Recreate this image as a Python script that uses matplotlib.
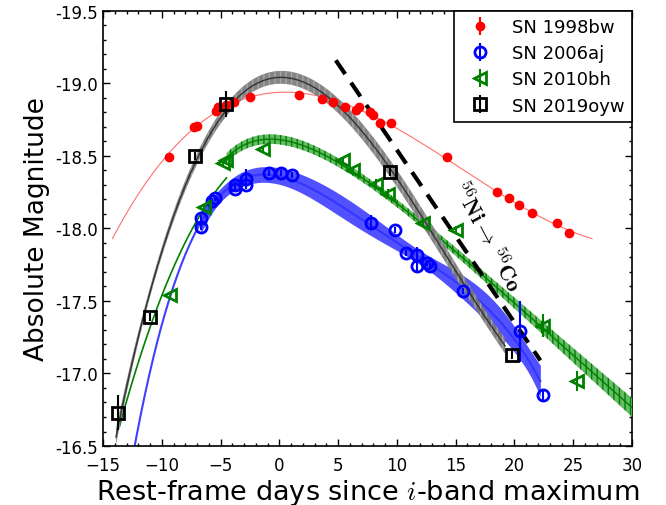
import numpy as np
import matplotlib
matplotlib.use("Agg")
import matplotlib.pyplot as plt
from matplotlib.ticker import MultipleLocator, FormatStrFormatter

plt.rcParams["mathtext.fontset"] = "cm"
plt.rcParams["hatch.linewidth"] = 1.0

# SN 1998bw
bw_t = [-9.35, -7.3, -7.0, -5.4, -5.2, -4.5, -3.9, -2.5, 1.7, 3.6, 4.6, 5.6,
        6.5, 6.8, 7.7, 8.0, 8.6, 9.5, 14.3, 18.5, 19.5, 20.4, 21.5, 23.6, 24.6]
bw_m = [-18.49, -18.70, -18.71, -18.81, -18.84, -18.85, -18.87, -18.91, -18.92,
        -18.89, -18.87, -18.84, -18.82, -18.84, -18.80, -18.78, -18.73, -18.73,
        -18.49, -18.25, -18.21, -18.16, -18.11, -18.04, -17.97]
bw_e = [0.02] * len(bw_t)

# SN 2006aj
aj_t = [-6.7, -6.7, -5.7, -5.5, -3.8, -3.8, -2.8, -2.8, -0.85, 0.1, 1.1,
        7.8, 9.8, 10.8, 11.7, 11.7, 12.6, 12.8, 15.6, 20.5, 22.4]
aj_m = [-18.07, -18.01, -18.19, -18.21, -18.30, -18.27, -18.30, -18.34, -18.38,
        -18.38, -18.37, -18.04, -17.99, -17.83, -17.82, -17.74, -17.76, -17.74,
        -17.57, -17.29, -16.85]
aj_e = [0.02, 0.02, 0.02, 0.02, 0.02, 0.02, 0.02, 0.07, 0.02, 0.02, 0.02,
        0.05, 0.02, 0.02, 0.05, 0.05, 0.02, 0.02, 0.02, 0.21, 0.04]

# SN 2010bh
bh_t = [-9.3, -6.4, -4.8, -4.5, -1.4, 5.4, 6.3, 8.2, 9.2, 12.2, 15.0, 22.4, 25.3]
bh_m = [-17.54, -18.15, -18.45, -18.47, -18.55, -18.47, -18.40, -18.31, -18.24,
        -18.04, -17.99, -17.33, -16.95]
bh_e = [0.02, 0.02, 0.02, 0.02, 0.02, 0.02, 0.02, 0.03, 0.03, 0.03, 0.03, 0.08, 0.07]

# SN 2019oyw
oyw_t = [-13.7, -11.0, -7.2, -4.5, 9.45, 19.8]
oyw_m = [-16.73, -17.39, -18.50, -18.86, -18.39, -17.13]
oyw_e = [0.12, 0.03, 0.03, 0.09, 0.03, 0.03]

# 56Ni -> 56Co decay slope
decay_t = [4.8, 22.2]
decay_m = [-19.16, -17.09]


def poly_model(t, m, deg, grid, log_shift=None):
    t = np.asarray(t, float)
    if log_shift is not None:
        t, grid = np.log(t + log_shift), np.log(grid + log_shift)
    p, cov = np.polyfit(t, m, deg, cov=True)
    vander = np.vander(grid, deg + 1)
    sig = np.sqrt(np.einsum("ij,jk,ik->i", vander, cov, vander))
    return np.polyval(p, grid), sig


fig = plt.figure(figsize=(6.66, 5.06), dpi=100)
ax = fig.add_axes([0.1547, 0.1166, 0.7943, 0.8597])

# 1998bw fit
g = np.linspace(-14.2, 26.6, 300)
fit, _ = poly_model(bw_t, bw_m, 3, g)
ax.plot(g, fit, color="#ff7070", lw=0.8, zorder=2)

# 2006aj fit
g = np.linspace(-12.5, 22.2, 300)
fit, sig = poly_model(aj_t, aj_m, 4, g)
ax.plot(g, fit, color="#4040ff", lw=1.5, zorder=2)
band = g >= -6.7
ax.fill_between(g[band], (fit - 2.6 * sig)[band], (fit + 2.6 * sig)[band],
                color="#3333ff", alpha=0.85, lw=0, zorder=2)

# 2010bh fits: rise (thin line) and decline (hatched band)
g = np.linspace(-13.6, -4.5, 100)
fit, _ = poly_model(bh_t, bh_m, 3, g)
ax.plot(g, fit, color="green", lw=1.2, zorder=3)
g = np.linspace(-4.5, 30, 300)
fit, sig = poly_model(bh_t, bh_m, 2, g, log_shift=15)
ax.fill_between(g, fit - 0.9 * sig, fit + 0.9 * sig, facecolor="#66bb66",
                edgecolor="green", hatch="|||", lw=0, zorder=3)
ax.plot(g, fit, color="green", lw=1.0, zorder=3)

# 2019oyw fit
g = np.linspace(-13.9, 19.2, 300)
fit, sig = poly_model(oyw_t, oyw_m, 3, g)
ax.fill_between(g, fit - 0.4 * sig, fit + 0.4 * sig, facecolor="#777777",
                edgecolor="#aaaaaa", hatch="|||", lw=0, alpha=0.9, zorder=3)
ax.plot(g, fit, color="#333333", lw=1.0, zorder=3)

ax.plot(decay_t, decay_m, "k--", lw=3, dashes=(4, 2.5), zorder=4)

ax.errorbar(bw_t, bw_m, yerr=bw_e, fmt="o", color="red", ms=6, mec="red",
            capsize=0, label="SN 1998bw", zorder=5)
ax.errorbar(aj_t, aj_m, yerr=aj_e, fmt="o", color="blue", ms=8, mfc="none",
            mew=2, capsize=0, label="SN 2006aj", zorder=5)
ax.errorbar(bh_t, bh_m, yerr=bh_e, fmt="<", color="green", ms=9, mfc="none",
            mew=2, capsize=0, label="SN 2010bh", zorder=5)
ax.errorbar(oyw_t, oyw_m, yerr=oyw_e, fmt="s", color="black", ms=9, mfc="none",
            mew=2, capsize=0, label="SN 2019oyw", zorder=6)

ax.text(17.7, -17.95, r"$^{56}\mathbf{Ni}\rightarrow\,^{56}\mathbf{Co}$",
        rotation=-62, fontsize=16, ha="center", va="center", zorder=7)

ax.set_xlim(-15, 30)
ax.set_ylim(-16.5, -19.5)
ax.xaxis.set_major_locator(MultipleLocator(5))
ax.xaxis.set_minor_locator(MultipleLocator(1))
ax.yaxis.set_major_locator(MultipleLocator(0.5))
ax.yaxis.set_minor_locator(MultipleLocator(0.1))
ax.tick_params(which="both", direction="in", top=True, right=True, labelsize=12)
ax.tick_params(which="major", length=5, width=1)
ax.tick_params(which="minor", length=2.5, width=1)
ax.tick_params(axis="x", which="major", pad=7)
ax.yaxis.set_major_formatter(FormatStrFormatter("%.1f"))
for s in ax.spines.values():
    s.set_linewidth(1.2)

ax.set_xlabel(r"Rest-frame days since $i$-band maximum", fontsize=19.5,
              labelpad=2)
ax.set_ylabel("Absolute Magnitude", fontsize=19)

leg = ax.legend(loc="upper right", numpoints=1, fontsize=13, fancybox=False,
                framealpha=1, edgecolor="black", borderaxespad=0,
                labelspacing=0.45)
leg.get_frame().set_linewidth(1.2)

fig.savefig("out.png", dpi=100)
